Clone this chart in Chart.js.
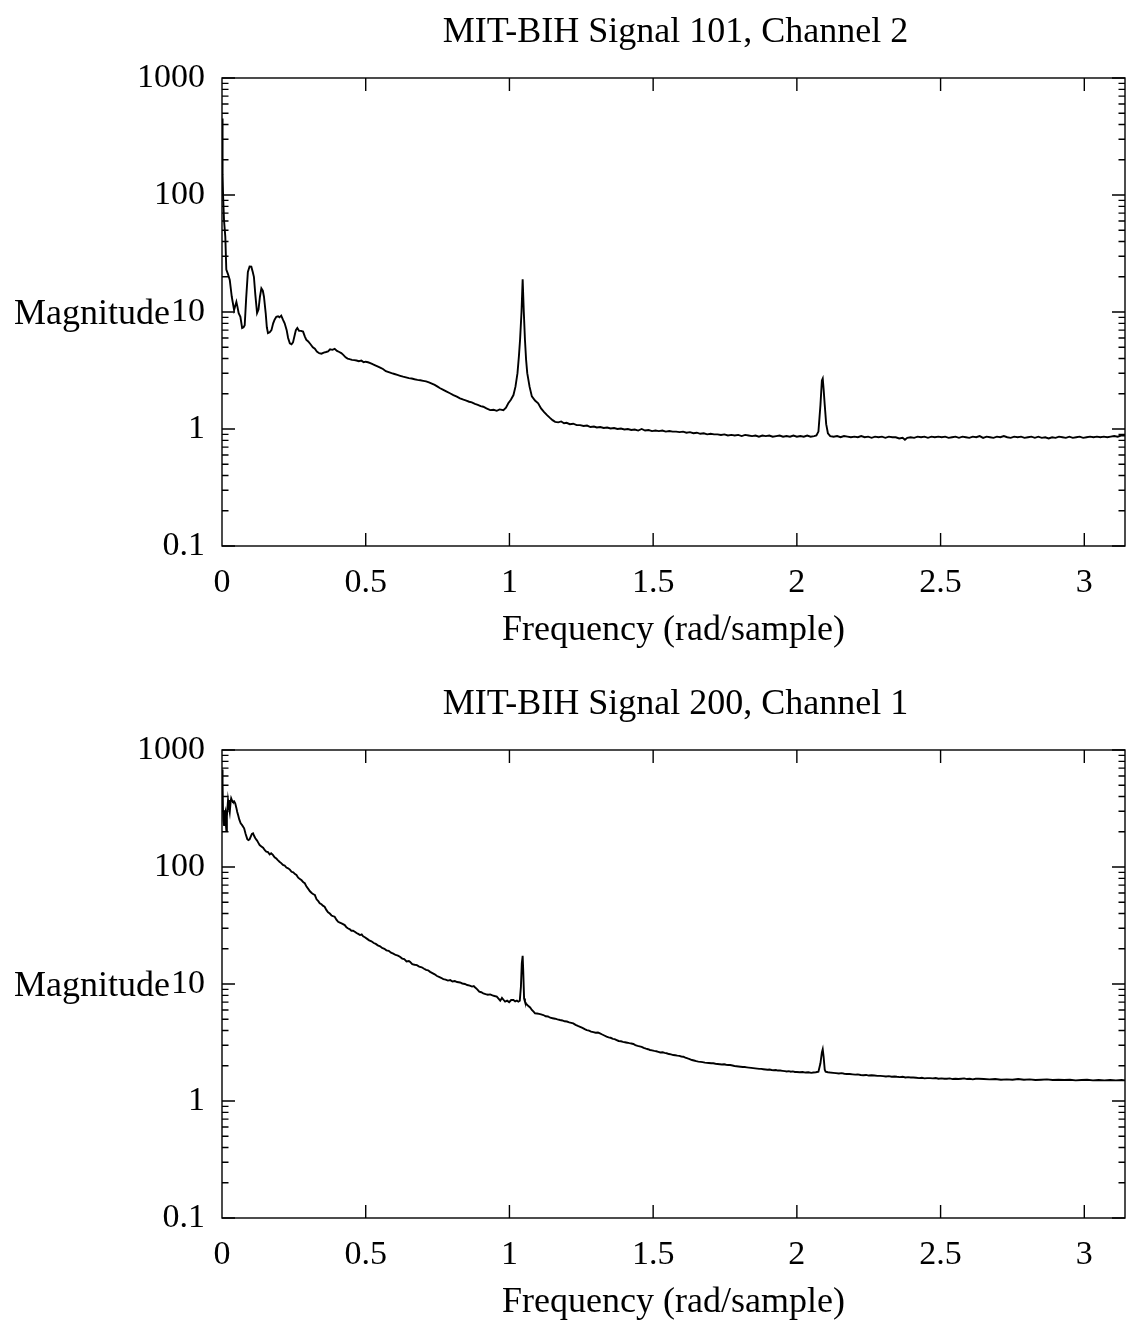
<!DOCTYPE html>
<html>
<head>
<meta charset="utf-8">
<script src="https://cdn.jsdelivr.net/npm/chart.js@4.4.1/dist/chart.umd.min.js"></script>
<style>
  html, body { margin: 0; padding: 0; background: #fff; }
  #c1 { position: absolute; left: 0; top: 0; }
  #c2 { position: absolute; left: 0; top: 672px; }
</style>
</head>
<body>
<canvas id="c1" width="1127" height="672"></canvas>
<canvas id="c2" width="1127" height="653"></canvas>
<script>
// ---------- data ----------
const titles = ["MIT-BIH Signal 101, Channel 2", "MIT-BIH Signal 200, Channel 1"];
const xAxisTitle = "Frequency (rad/sample)";
const yAxisTitle = "Magnitude";
const xTickValues = [0, 0.5, 1, 1.5, 2, 2.5, 3];
const yTickValues = [0.1, 1, 10, 100, 1000];

const freq101 = [0.000,0.002,0.004,0.007,0.0115,0.015,0.021,0.027,0.034,0.042,0.047,0.050,0.054,0.058,0.064,0.070,0.075,0.079,0.084,0.090,0.096,0.102,0.107,0.111,0.116,0.122,0.127,0.132,0.137,0.142,0.146,0.152,0.156,0.160,0.166,0.172,0.178,0.183,0.189,0.195,0.200,0.206,0.212,0.218,0.225,0.230,0.236,0.242,0.247,0.252,0.257,0.262,0.268,0.275,0.282,0.288,0.293,0.300,0.308,0.316,0.323,0.330,0.338,0.346,0.354,0.362,0.369,0.376,0.384,0.392,0.400,0.408,0.415,0.422,0.430,0.437,0.444,0.452,0.460,0.468,0.476,0.485,0.493,0.500,0.508,0.516,0.524,0.533,0.543,0.552,0.560,0.570,0.580,0.590,0.600,0.610,0.620,0.630,0.640,0.650,0.660,0.670,0.680,0.690,0.700,0.710,0.720,0.730,0.740,0.750,0.759,0.770,0.780,0.793,0.805,0.817,0.828,0.840,0.850,0.860,0.869,0.880,0.890,0.900,0.909,0.920,0.933,0.945,0.956,0.966,0.979,0.988,0.996,1.005,1.014,1.021,1.028,1.033,1.037,1.042,1.046,1.050,1.054,1.058,1.062,1.070,1.078,1.089,1.100,1.110,1.120,1.130,1.140,1.150,1.159,1.170,1.180,1.190,1.199,1.210,1.222,1.234,1.246,1.258,1.270,1.282,1.294,1.304,1.316,1.328,1.340,1.352,1.364,1.376,1.388,1.400,1.412,1.424,1.436,1.448,1.460,1.472,1.484,1.496,1.508,1.520,1.532,1.544,1.556,1.568,1.580,1.592,1.604,1.616,1.628,1.640,1.652,1.664,1.676,1.688,1.700,1.712,1.724,1.736,1.748,1.760,1.772,1.784,1.796,1.808,1.820,1.832,1.844,1.856,1.868,1.880,1.892,1.904,1.916,1.928,1.940,1.952,1.964,1.976,1.988,2.000,2.012,2.024,2.036,2.048,2.060,2.068,2.075,2.082,2.087,2.090,2.093,2.097,2.102,2.108,2.116,2.128,2.140,2.152,2.164,2.176,2.188,2.200,2.212,2.224,2.236,2.248,2.260,2.272,2.284,2.296,2.308,2.320,2.332,2.344,2.356,2.368,2.376,2.384,2.396,2.408,2.420,2.432,2.444,2.456,2.468,2.480,2.492,2.504,2.516,2.528,2.540,2.552,2.564,2.576,2.588,2.600,2.612,2.624,2.636,2.648,2.660,2.672,2.684,2.696,2.708,2.720,2.732,2.744,2.756,2.768,2.780,2.792,2.804,2.816,2.828,2.840,2.852,2.864,2.876,2.888,2.900,2.912,2.924,2.936,2.948,2.960,2.972,2.984,2.996,3.008,3.020,3.032,3.044,3.056,3.068,3.080,3.092,3.104,3.116,3.128,3.1416];
const mag101 = [450,150,95,61,44,23,21,18.8,13.5,10.4,11.5,12.2,11.0,9.75,9.1,7.3,7.4,7.7,13,22,24.5,24.4,22,20,14,9.8,10.5,13.5,15.9,15.2,13.5,9.8,7.4,6.6,6.7,7.0,8.0,8.6,9.1,9.2,9.0,9.3,8.6,8.0,7.0,6.0,5.4,5.3,5.5,6.2,7.0,7.3,6.9,6.9,6.8,6.2,5.8,5.6,5.3,5.0,4.85,4.6,4.45,4.4,4.5,4.55,4.6,4.8,4.75,4.85,4.65,4.55,4.45,4.3,4.1,4.0,3.95,3.9,3.88,3.85,3.8,3.84,3.72,3.76,3.72,3.66,3.58,3.5,3.41,3.33,3.26,3.12,3.06,3.0,2.95,2.9,2.85,2.8,2.76,2.72,2.7,2.66,2.63,2.61,2.58,2.55,2.5,2.44,2.38,2.3,2.23,2.16,2.1,2.02,1.95,1.89,1.83,1.78,1.75,1.71,1.69,1.64,1.61,1.57,1.55,1.5,1.45,1.46,1.43,1.47,1.45,1.52,1.66,1.78,1.95,2.3,3.0,4.2,5.8,10,19,10,5.8,3.9,3.0,2.3,1.9,1.75,1.66,1.5,1.4,1.32,1.25,1.19,1.15,1.14,1.16,1.12,1.13,1.1,1.11,1.08,1.08,1.06,1.07,1.04,1.05,1.03,1.04,1.02,1.03,1.01,1.02,1.0,1.01,0.99,1.0,0.98,0.99,0.97,1.0,0.97,0.98,0.96,0.97,0.96,0.97,0.95,0.96,0.95,0.95,0.94,0.95,0.93,0.94,0.92,0.93,0.91,0.92,0.9,0.91,0.9,0.9,0.89,0.9,0.88,0.89,0.88,0.89,0.87,0.89,0.88,0.87,0.88,0.86,0.88,0.87,0.88,0.86,0.87,0.88,0.86,0.87,0.86,0.88,0.86,0.87,0.86,0.88,0.86,0.87,0.88,0.95,1.6,2.6,2.7,2.2,1.6,1.1,0.92,0.87,0.86,0.87,0.85,0.87,0.86,0.85,0.86,0.85,0.87,0.85,0.86,0.84,0.86,0.85,0.86,0.84,0.86,0.85,0.85,0.83,0.84,0.81,0.84,0.85,0.84,0.86,0.85,0.86,0.84,0.86,0.85,0.86,0.85,0.86,0.84,0.85,0.86,0.84,0.86,0.85,0.84,0.86,0.85,0.87,0.84,0.86,0.85,0.84,0.86,0.85,0.87,0.85,0.84,0.86,0.85,0.86,0.84,0.85,0.86,0.84,0.86,0.84,0.85,0.83,0.85,0.84,0.86,0.85,0.84,0.86,0.84,0.85,0.86,0.84,0.85,0.86,0.85,0.86,0.85,0.86,0.85,0.86,0.87,0.86,0.88,0.88];

const freq200 = [0.000,0.002,0.0035,0.005,0.007,0.009,0.0115,0.013,0.015,0.017,0.021,0.024,0.027,0.030,0.032,0.035,0.038,0.042,0.046,0.050,0.053,0.056,0.060,0.065,0.070,0.077,0.082,0.088,0.092,0.096,0.100,0.104,0.108,0.112,0.116,0.122,0.127,0.131,0.137,0.143,0.149,0.154,0.160,0.166,0.171,0.177,0.183,0.189,0.195,0.200,0.206,0.212,0.218,0.224,0.230,0.236,0.242,0.248,0.254,0.259,0.265,0.271,0.277,0.283,0.288,0.294,0.300,0.306,0.312,0.318,0.323,0.329,0.335,0.340,0.346,0.352,0.357,0.363,0.369,0.375,0.381,0.386,0.392,0.398,0.404,0.410,0.416,0.421,0.427,0.433,0.439,0.445,0.450,0.456,0.462,0.468,0.474,0.480,0.486,0.491,0.497,0.505,0.512,0.520,0.528,0.535,0.542,0.550,0.557,0.565,0.572,0.580,0.588,0.596,0.604,0.612,0.619,0.627,0.634,0.642,0.650,0.654,0.662,0.670,0.678,0.686,0.695,0.703,0.710,0.717,0.724,0.732,0.740,0.748,0.755,0.762,0.770,0.778,0.786,0.794,0.802,0.810,0.818,0.828,0.836,0.845,0.853,0.862,0.870,0.876,0.880,0.888,0.895,0.902,0.909,0.917,0.925,0.933,0.941,0.948,0.956,0.962,0.968,0.974,0.980,0.985,0.992,0.999,1.006,1.014,1.020,1.026,1.031,1.036,1.040,1.043,1.046,1.048,1.051,1.054,1.058,1.062,1.066,1.072,1.078,1.084,1.089,1.096,1.103,1.110,1.118,1.126,1.134,1.142,1.150,1.159,1.167,1.176,1.184,1.192,1.200,1.208,1.215,1.222,1.230,1.238,1.246,1.254,1.262,1.269,1.277,1.284,1.292,1.300,1.308,1.315,1.323,1.330,1.338,1.345,1.352,1.360,1.366,1.373,1.380,1.388,1.395,1.402,1.410,1.417,1.424,1.431,1.438,1.446,1.453,1.460,1.467,1.475,1.482,1.489,1.496,1.504,1.511,1.518,1.525,1.533,1.540,1.547,1.555,1.562,1.570,1.577,1.584,1.591,1.598,1.605,1.612,1.620,1.627,1.635,1.642,1.650,1.657,1.665,1.672,1.680,1.687,1.694,1.702,1.709,1.717,1.724,1.732,1.739,1.747,1.754,1.761,1.768,1.776,1.783,1.790,1.797,1.804,1.812,1.819,1.826,1.833,1.841,1.848,1.855,1.862,1.869,1.876,1.883,1.891,1.898,1.905,1.912,1.920,1.927,1.934,1.942,1.950,1.958,1.965,1.972,1.979,1.986,1.993,2.000,2.010,2.020,2.030,2.040,2.050,2.057,2.066,2.075,2.082,2.087,2.090,2.093,2.097,2.100,2.108,2.116,2.126,2.136,2.146,2.156,2.165,2.174,2.184,2.194,2.203,2.212,2.222,2.231,2.241,2.250,2.260,2.270,2.280,2.290,2.300,2.310,2.320,2.330,2.340,2.348,2.358,2.368,2.378,2.387,2.396,2.405,2.415,2.425,2.435,2.444,2.453,2.463,2.473,2.483,2.493,2.503,2.513,2.522,2.532,2.542,2.552,2.562,2.572,2.582,2.592,2.602,2.612,2.622,2.632,2.650,2.670,2.690,2.710,2.730,2.750,2.770,2.790,2.810,2.830,2.850,2.870,2.890,2.910,2.930,2.950,2.970,2.990,3.010,3.030,3.050,3.070,3.090,3.110,3.130,3.1416];
const mag200 = [680,520,307,250,228,280,295,240,207,270,374,330,295,360,386,370,361,365,350,320,295,278,255,236,228,214,192,173,170,172,182,192,194,184,176,168,160,154,150,146,139,135,134,128,131,127,121,118,114,111,108,104,103,99,97.5,95,91,90,87,85.5,81,79,77,74,72.6,68,65,62,60,58.5,57.6,53,51,49,48,46.5,45.8,43,41,40,38.5,38,37.6,35.5,34,33.5,33,32.5,31.9,30.5,29.8,29.3,28.5,28.6,28,27.3,26.8,26.2,26.5,25.6,25.1,24.3,23.6,23.2,22.4,22,21.4,21,20.3,20,19.4,19.2,18.5,18.2,17.7,17.5,17.1,16.5,16.3,15.6,15.7,15.5,14.8,14.6,14.5,14.1,13.9,13.5,13.2,13.1,12.7,12.4,12.1,11.7,11.5,11.3,11.0,10.9,10.7,10.8,10.5,10.6,10.4,10.3,10.1,10.0,9.8,9.7,9.5,9.6,9.37,9.0,8.6,8.5,8.33,8.2,8.1,8.15,8.0,7.9,7.8,7.5,7.2,7.6,7.3,7.06,7.2,7.0,7.3,7.3,7.1,7.2,7.06,7.2,9.5,15,17.4,13,7.5,7.06,6.8,6.6,6.49,6.3,6.0,5.8,5.62,5.6,5.55,5.5,5.43,5.3,5.28,5.15,5.1,5.05,4.98,4.92,4.88,4.8,4.78,4.7,4.66,4.61,4.48,4.38,4.3,4.22,4.12,4.04,4.0,3.92,3.88,3.83,3.85,3.79,3.7,3.63,3.55,3.5,3.47,3.4,3.38,3.32,3.26,3.24,3.2,3.18,3.15,3.12,3.1,3.07,3.0,2.96,2.93,2.9,2.84,2.8,2.77,2.73,2.71,2.68,2.66,2.63,2.6,2.61,2.58,2.56,2.52,2.5,2.47,2.46,2.44,2.43,2.4,2.39,2.35,2.31,2.28,2.24,2.22,2.19,2.17,2.16,2.15,2.13,2.12,2.11,2.1,2.1,2.08,2.07,2.06,2.05,2.06,2.04,2.03,2.03,2.01,1.99,1.98,1.97,1.96,1.95,1.95,1.94,1.93,1.92,1.91,1.9,1.89,1.88,1.88,1.87,1.86,1.85,1.86,1.84,1.83,1.84,1.82,1.82,1.81,1.8,1.79,1.8,1.78,1.79,1.77,1.77,1.76,1.77,1.75,1.76,1.74,1.75,1.76,1.78,2.1,2.6,2.77,2.4,1.85,1.78,1.76,1.75,1.74,1.73,1.72,1.73,1.71,1.70,1.7,1.69,1.68,1.69,1.67,1.66,1.67,1.65,1.66,1.65,1.64,1.64,1.63,1.62,1.63,1.61,1.62,1.61,1.6,1.61,1.59,1.6,1.59,1.59,1.58,1.57,1.58,1.56,1.57,1.57,1.56,1.57,1.55,1.56,1.55,1.55,1.56,1.54,1.55,1.54,1.55,1.56,1.54,1.55,1.53,1.55,1.55,1.54,1.53,1.54,1.52,1.53,1.52,1.54,1.52,1.53,1.51,1.52,1.53,1.51,1.52,1.51,1.52,1.5,1.51,1.52,1.5,1.51,1.5,1.51,1.5,1.51,1.5];

// ---------- rendering ----------
const FONT = "'Liberation Serif', 'Times New Roman', serif";
const TICK_FONT_SIZE = 34;
const TEXT_FONT_SIZE = 36;

function makePlugin(title) {
  return {
    id: 'frameAndText',
    afterDraw(chart) {
      const ctx = chart.ctx;
      const a = chart.chartArea;
      const xs = chart.scales.x, ys = chart.scales.y;
      ctx.save();
      ctx.strokeStyle = '#000';
      ctx.lineWidth = 1.4;
      ctx.strokeRect(a.left, a.top, a.right - a.left, a.bottom - a.top);
      ctx.beginPath();
      xTickValues.forEach(v => {
        if (v === 0) return;
        const px = xs.getPixelForValue(v);
        ctx.moveTo(px, a.bottom); ctx.lineTo(px, a.bottom - 13);
        ctx.moveTo(px, a.top); ctx.lineTo(px, a.top + 13);
      });
      yTickValues.forEach(d => {
        for (let k = 1; k <= 9; k++) {
          const v = d * k;
          if (v > 1000 + 1e-9) break;
          const py = ys.getPixelForValue(v);
          const len = k === 1 ? 13 : 6.5;
          ctx.moveTo(a.left, py); ctx.lineTo(a.left + len, py);
          ctx.moveTo(a.right, py); ctx.lineTo(a.right - len, py);
        }
      });
      ctx.stroke();
      ctx.fillStyle = '#000';
      ctx.font = TEXT_FONT_SIZE + 'px ' + FONT;
      ctx.textBaseline = 'alphabetic';
      ctx.textAlign = 'center';
      const cx = (a.left + a.right) / 2;
      ctx.fillText(title, cx + 2, 42);
      ctx.fillText(xAxisTitle, cx, 640);
      ctx.textAlign = 'right';
      ctx.fillText(yAxisTitle, 170, (a.top + a.bottom) / 2 + 12);
      ctx.restore();
    }
  };
}

function makeChart(id, title, freq, mag, xHeight) {
  const points = freq.map((f, i) => ({ x: f, y: mag[i] }));
  return new Chart(document.getElementById(id), {
    type: 'line',
    data: {
      datasets: [{
        data: points,
        borderColor: '#000',
        borderWidth: 1.9,
        pointRadius: 0,
        tension: 0,
        fill: false
      }]
    },
    options: {
      responsive: false,
      animation: false,
      devicePixelRatio: 1,
      layout: { padding: { top: 78, right: 2, left: 0, bottom: 0 } },
      plugins: { legend: { display: false }, tooltip: { enabled: false }, title: { display: false } },
      scales: {
        x: {
          type: 'linear',
          min: 0,
          max: Math.PI,
          grid: { display: false },
          border: { display: false },
          afterBuildTicks: s => { s.ticks = xTickValues.map(v => ({ value: v })); },
          afterFit: s => { s.height = xHeight; },
          ticks: {
            color: '#000',
            font: { family: FONT, size: TICK_FONT_SIZE },
            padding: 9,
            maxRotation: 0,
            autoSkip: false,
            callback: v => String(v)
          }
        },
        y: {
          type: 'logarithmic',
          min: 0.1,
          max: 1000,
          grid: { display: false },
          border: { display: false },
          afterBuildTicks: s => { s.ticks = yTickValues.map(v => ({ value: v })); },
          afterFit: s => { s.width = 222; },
          ticks: {
            color: '#000',
            font: { family: FONT, size: TICK_FONT_SIZE },
            padding: 9,
            autoSkip: false,
            callback: v => String(v)
          }
        }
      }
    },
    plugins: [makePlugin(title)]
  });
}

makeChart('c1', titles[0], freq101, mag101, 126);
makeChart('c2', titles[1], freq200, mag200, 107);
</script>
</body>
</html>
